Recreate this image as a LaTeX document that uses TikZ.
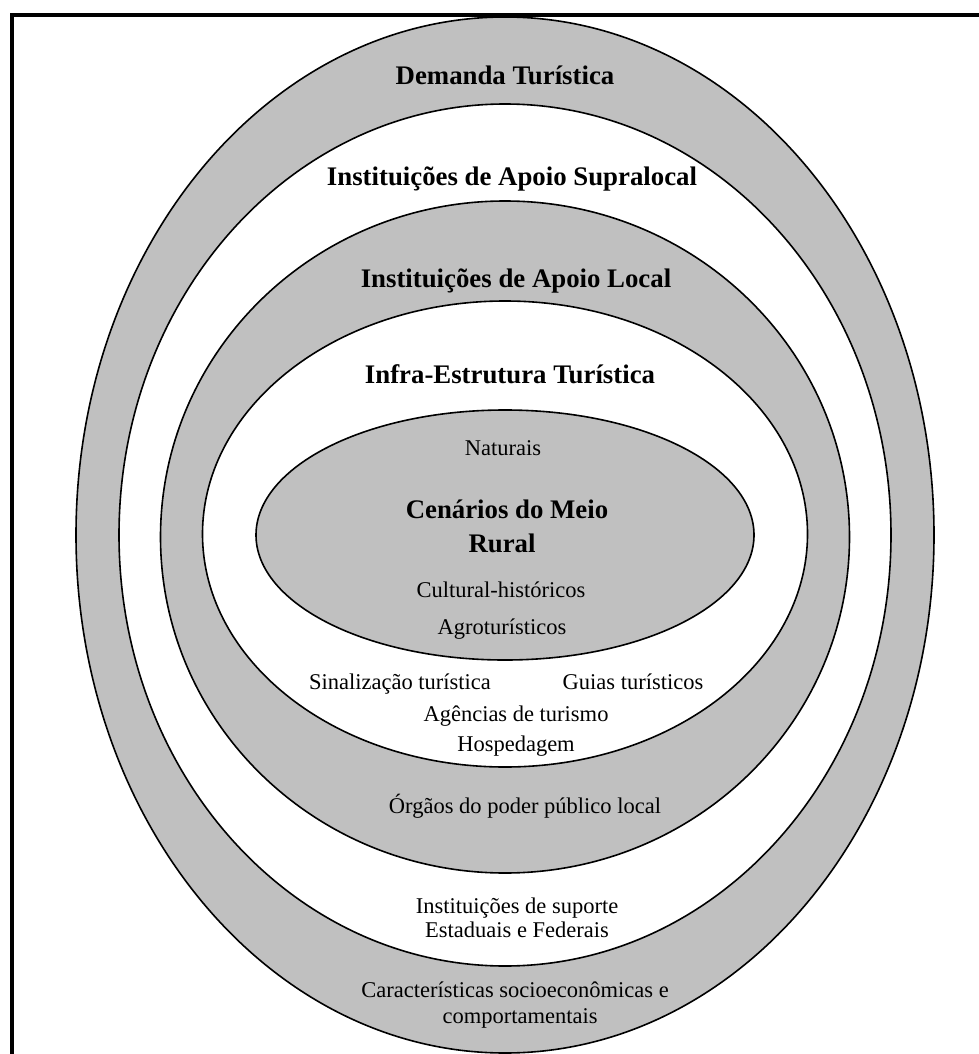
\documentclass[tikz,border=0pt]{standalone}
\usepackage{fontspec}
\setmainfont{Liberation Serif}
\definecolor{ringgray}{RGB}{192,192,192}

\begin{document}
\begin{tikzpicture}[x=1pt, y=-1pt,
		ring/.style={draw=black, line width=1.6pt},
		title/.style={anchor=base, inner sep=0pt, font=\fontsize{26.8}{32}\selectfont\bfseries},
		item/.style={anchor=base, inner sep=0pt, font=\fontsize{22.5}{27}\selectfont}]
		%%%%% START %%%%%
		\useasboundingbox (0, 0) rectangle (979, 1054);
		\fill[white] (0, 0) rectangle (979, 1054);
		
		% rings, from outside to inside
		\draw[ring, fill=ringgray] (505, 535) ellipse [x radius=429pt, y radius=518pt];
		\draw[ring, fill=white] (505, 535) ellipse [x radius=386pt, y radius=431pt];
		\draw[ring, fill=ringgray] (505, 537) ellipse [x radius=344.5pt, y radius=336pt];
		\draw[ring, fill=white] (505, 534) ellipse [x radius=302.5pt, y radius=233pt];
		\draw[ring, fill=ringgray] (505, 535) ellipse [x radius=249pt, y radius=125pt];
		
		% frame
		\draw[line width=4pt] (12, 1054) -- (12, 15) -- (979, 15);
		
		\node[title] (demanda) at (505, 85) {Demanda Turística};
		\node[title] (supralocal) at (512, 185) {Instituições de Apoio Supralocal};
		\node[title] (local) at (516, 287) {Instituições de Apoio Local};
		\node[title] (infra) at (510, 383) {Infra-Estrutura Turística};
		
		\node[item] (naturais) at (503, 455) {Naturais};
		\node[title] (cenarios) at (507, 518) {Cenários do Meio};
		\node[title] (rural) at (502, 552) {Rural};
		\node[item] (cultural) at (501, 597) {Cultural-históricos};
		\node[item] (agro) at (502, 634) {Agroturísticos};
		
		\node[item] (sinalizacao) at (400, 689) {Sinalização turística};
		\node[item] (guias) at (633, 689) {Guias turísticos};
		\node[item] (agencias) at (516, 721) {Agências de turismo};
		\node[item] (hospedagem) at (516, 751) {Hospedagem};
		
		\node[item] (orgaos) at (525, 813) {Órgãos do poder público local};
		
		\node[item] (suporte) at (517, 913) {Instituições de suporte};
		\node[item] (estaduais) at (517, 937) {Estaduais e Federais};
		
		\node[item] (caracteristicas) at (515, 997) {Características socioeconômicas e};
		\node[item] (comportamentais) at (520, 1023) {comportamentais};
		%%%%% END %%%%%
	\end{tikzpicture}
\end{document}
